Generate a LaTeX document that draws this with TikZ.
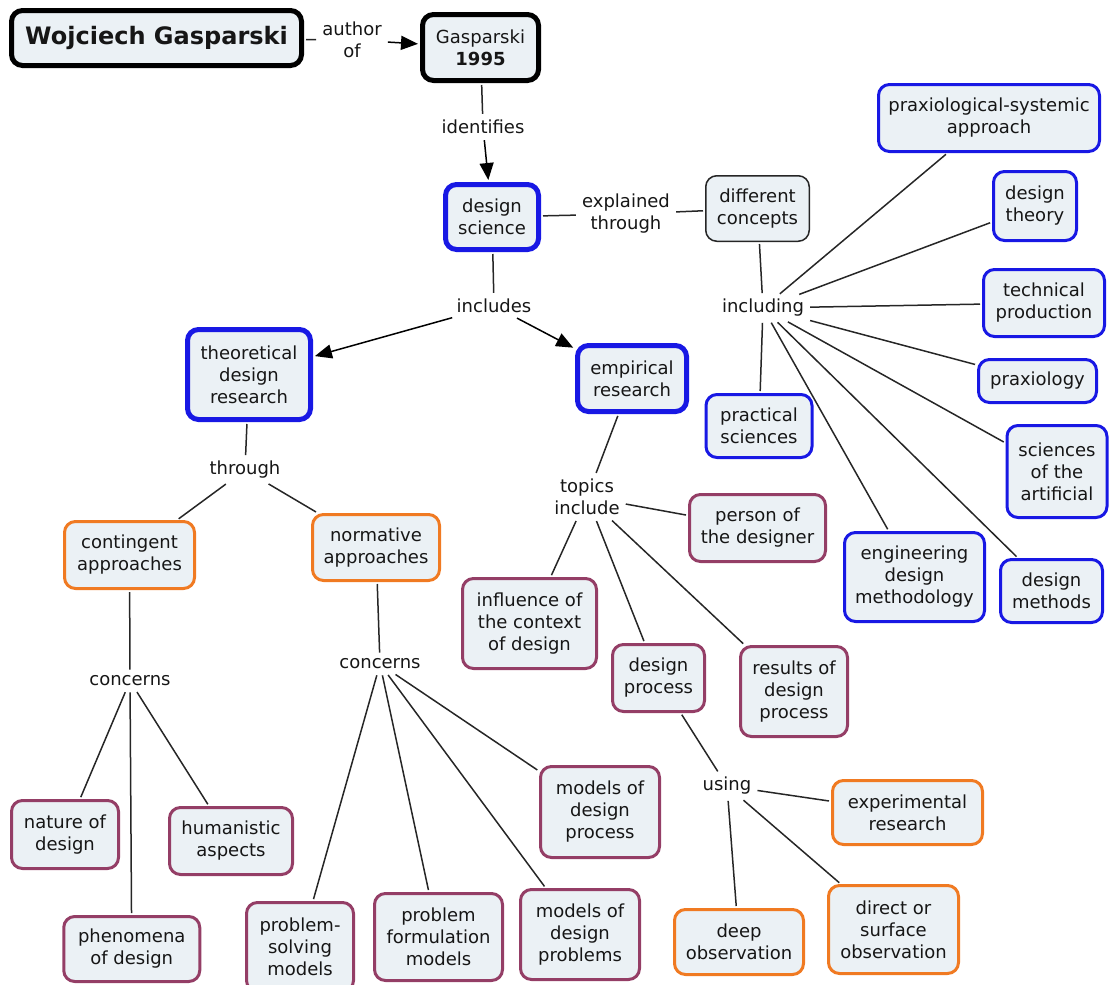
\documentclass[tikz,border=0pt]{standalone}
\usepackage{fontspec}
\setmainfont{DejaVu Sans}
\usetikzlibrary{arrows.meta}

\definecolor{boxfill}{RGB}{235,241,245}
\definecolor{bluec}{RGB}{24,24,228}
\definecolor{orangec}{RGB}{240,122,34}
\definecolor{plumc}{RGB}{148,62,102}
\definecolor{linec}{RGB}{38,38,38}
\definecolor{inkc}{RGB}{22,22,22}

\begin{document}
\begin{tikzpicture}[x=1pt,y=-1pt,
  txt/.style={font=\fontsize{18}{22}\selectfont, text=inkc, align=center},
  box/.style={txt, draw, fill=boxfill, rounded corners=11pt, inner sep=0pt},
  headbox/.style={box, draw=black, line width=5pt},
  corebox/.style={box, draw=bluec, line width=5pt},
  greybox/.style={box, draw=linec, line width=1.5pt},
  bluebox/.style={box, draw=bluec, line width=3pt},
  orangebox/.style={box, draw=orangec, line width=3pt},
  plumbox/.style={box, draw=plumc, line width=3pt},
  linklabel/.style={txt, inner sep=4pt},
  conn/.style={draw=linec, line width=1.5pt, shorten <=2pt, shorten >=2pt},
  arr/.style={-{Triangle[length=17pt,width=14pt]}, draw=black, line width=1.5pt},
  wh/.style 2 args={minimum width=#1pt, minimum height=#2pt}
]
\useasboundingbox (0,0) rectangle (1112,985);

% top row
\node[headbox, wh={290}{55}, font=\fontsize{24}{28}\selectfont\bfseries] (wg) at (156.5,38) {Wojciech Gasparski};
\node[headbox, wh={116}{66}] (g95) at (480.5,47.5) {Gasparski\\\textbf{1995}};
\node[linklabel] (lauth) at (352,40) {author\\of};
\node[linklabel] (lident) at (483,127) {identifies};

% design science and its concepts
\node[corebox, wh={93}{65}] (ds) at (492,217) {design\\science};
\node[linklabel] (lexpl) at (626,214) {explained\\through};
\node[greybox, wh={103.5}{65.5}] (dc) at (757.5,208.5) {different\\concepts};
\node[linklabel] (lincl) at (763,308) {including};

\node[bluebox, wh={221}{67}] (psa) at (989,118) {praxiological-systemic\\approach};
\node[bluebox, wh={83}{69}] (dt) at (1035,206) {design\\theory};
\node[bluebox, wh={121}{67}] (tp) at (1044,303) {technical\\production};
\node[bluebox, wh={118}{43}] (px) at (1037.5,381) {praxiology};
\node[bluebox, wh={100}{92}] (sa) at (1057,471.5) {sciences\\of the\\artificial};
\node[bluebox, wh={102}{63}] (dm) at (1051.5,591) {design\\methods};
\node[bluebox, wh={140}{89}] (edm) at (914.5,577) {engineering\\design\\methodology};
\node[bluebox, wh={106}{63}] (ps) at (759,426) {practical\\sciences};

% research branches
\node[linklabel] (lincs) at (494,306) {includes};
\node[corebox, wh={123}{90}] (tdr) at (249,374.5) {theoretical\\design\\research};
\node[corebox, wh={109}{66}] (er) at (632,378.5) {empirical\\research};

% theoretical side
\node[linklabel] (lthr) at (245,470) {through};
\node[orangebox, wh={130}{67}] (ca) at (129.5,555) {contingent\\approaches};
\node[orangebox, wh={127}{66}] (na) at (376,547.5) {normative\\approaches};
\node[linklabel] (lcon1) at (130,681) {concerns};
\node[linklabel] (lcon2) at (380,664) {concerns};

\node[plumbox, wh={107}{68}] (nd) at (65,834.5) {nature of\\design};
\node[plumbox, wh={123}{67}] (ha) at (231,841) {humanistic\\aspects};
\node[plumbox, wh={136}{65}] (pd) at (131.75,949) {phenomena\\of design};

\node[plumbox, wh={107}{89}] (psm) at (300,947) {problem-\\solving\\models};
\node[plumbox, wh={128}{87}] (pfm) at (438.5,937) {problem\\formulation\\models};
\node[plumbox, wh={119}{90}] (mdpb) at (580,934.5) {models of\\design\\problems};
\node[plumbox, wh={119}{91}] (mdpc) at (600,812) {models of\\design\\process};

% empirical side
\node[linklabel] (ltop) at (587,497) {topics\\include};
\node[plumbox, wh={136}{67}] (pod) at (757.5,528) {person of\\the designer};
\node[plumbox, wh={134}{90}] (icd) at (529.5,623.5) {influence of\\the context\\of design};
\node[plumbox, wh={92}{67}] (dp) at (658.5,678) {design\\process};
\node[plumbox, wh={107}{90}] (rdp) at (794,691.5) {results of\\design\\process};

\node[linklabel] (lusing) at (727,786) {using};
\node[orangebox, wh={150}{64}] (xr) at (907.5,812.5) {experimental\\research};
\node[orangebox, wh={129}{65}] (do) at (739,942) {deep\\observation};
\node[orangebox, wh={130}{88}] (dso) at (893.5,929.5) {direct or\\surface\\observation};

% connectors
\draw[conn] (wg) -- (lauth);
\draw[conn, arr] (lauth) -- (g95);
\draw[conn] (g95) -- (lident);
\draw[conn, arr] (lident) -- (ds);

\draw[conn] (ds) -- (lexpl);
\draw[conn] (lexpl) -- (dc);
\draw[conn] (dc) -- (lincl);
\foreach \t in {psa,dt,tp,px,sa,dm,edm,ps}
  \draw[conn] (lincl) -- (\t);

\draw[conn] (ds) -- (lincs);
\draw[conn, arr] (lincs) -- (tdr);
\draw[conn, arr] (lincs) -- (er);

\draw[conn] (tdr) -- (lthr);
\draw[conn] (lthr) -- (ca);
\draw[conn] (lthr) -- (na);
\draw[conn] (ca) -- (lcon1);
\foreach \t in {nd,ha,pd}
  \draw[conn] (lcon1) -- (\t);
\draw[conn] (na) -- (lcon2);
\foreach \t in {psm,pfm,mdpb,mdpc}
  \draw[conn] (lcon2) -- (\t);

\draw[conn] (er) -- (ltop);
\foreach \t in {pod,icd,dp,rdp}
  \draw[conn] (ltop) -- (\t);
\draw[conn] (dp) -- (lusing);
\foreach \t in {xr,do,dso}
  \draw[conn] (lusing) -- (\t);
\end{tikzpicture}
\end{document}
